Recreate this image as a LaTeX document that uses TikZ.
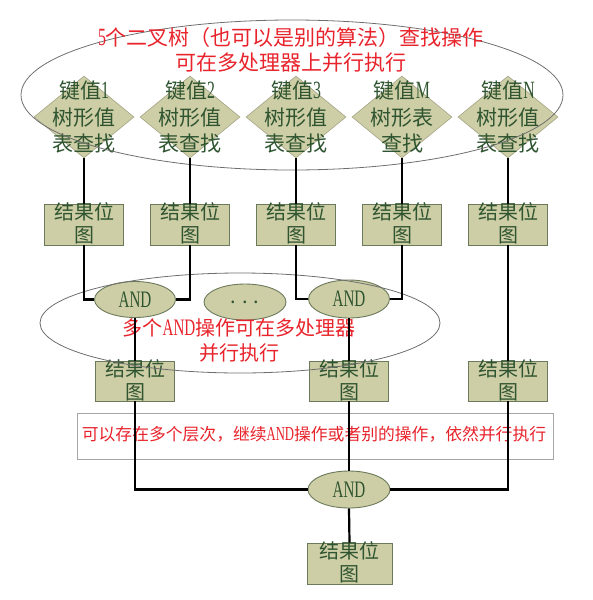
\documentclass[tikz,border=0pt]{standalone}
\usepackage{fontspec}
\setmainfont{Noto Sans CJK SC}
\newfontfamily\latfont[FakeStretch=0.64,Scale=1.18]{Liberation Serif}
\newcommand{\lat}[1]{{\latfont #1}}
\usetikzlibrary{shapes.geometric}
\definecolor{khaki}{HTML}{CDCDA6}
\definecolor{boxline}{HTML}{6B7A5A}
\definecolor{dgreen}{HTML}{2F5530}
\definecolor{tred}{HTML}{E8232B}
\definecolor{ringgray}{HTML}{6E6E6E}
\tikzset{
  dia/.style={diamond, fill=khaki, draw=khaki!80!black, line width=0.6pt, minimum width=100pt, minimum height=82pt, inner sep=0pt},
  box/.style={rectangle, fill=khaki, draw=boxline, line width=0.9pt, minimum width=79pt, minimum height=41pt, inner sep=0pt},
  andnode/.style={ellipse, fill=khaki, draw=boxline, line width=0.9pt, minimum width=81pt, minimum height=36pt, inner sep=0pt, text=dgreen, font=\fontsize{20}{24}\selectfont},
  gtxt/.style={text=dgreen, align=center, inner sep=0pt},
  rtxt/.style={text=tred, align=center, inner sep=0pt},
  ring/.style={ellipse, draw=ringgray, line width=0.8pt, inner sep=0pt},
  conn/.style={draw=black, line width=2.2pt},
}
\begin{document}
\begin{tikzpicture}[x=1pt,y=-1pt]
\useasboundingbox (0,0) rectangle (592,600);
% diamonds and first row of boxes
\foreach \n/\x/\t in {1/84/{键值\lat{1}\\树形值\\表查找},2/190/{键值\lat{2}\\树形值\\表查找},3/296/{键值\lat{3}\\树形值\\表查找},4/402/{键值\lat{M}\\树形表\\查找},5/508/{键值\lat{N}\\树形值\\表查找}}{
  \node[dia] (d\n) at (\x,117) {};
  \node[gtxt, font=\fontsize{21}{26.5}\selectfont] (d\n t) at (\x,117) {\t};
  \node[box] (b\n) at (\x,224.5) {};
  \node[gtxt, font=\fontsize{20}{23}\selectfont] (b\n t) at (\x,223.5) {结果位\\图};
}
% AND ellipses row 2
\node[andnode] (and1) at (135,299.5) {\lat{AND}};
\node[andnode, minimum width=82pt] (dots) at (245,302) {. . .};
\node[andnode, minimum height=38pt] (and2) at (349,299) {\lat{AND}};
% third row boxes
\foreach \n/\x in {1/135,2/349,3/508}{
  \node[box, minimum height=40pt] (c\n) at (\x,381) {};
  \node[gtxt, font=\fontsize{20}{23}\selectfont] (c\n t) at (\x,380) {结果位\\图};
}
% wide box
\node[rectangle, draw=gray!70, fill=white, line width=0.9pt, minimum width=476pt, minimum height=46pt, inner sep=0pt] (wide) at (315,436) {};
\node[rtxt, font=\fontsize{16.8}{20}\selectfont] (widet) at (314,434) {可以存在多个层次，继续\lat{AND}操作或者别的操作，依然并行执行};
% final AND and box
\node[andnode, minimum width=82pt, minimum height=37pt] (and3) at (349,489.5) {\lat{AND}};
\node[box, minimum width=85pt] (fin) at (349.5,563.5) {};
\node[gtxt, font=\fontsize{20}{23}\selectfont] (fint) at (349.5,562.5) {结果位\\图};
% rings
\node[ring, minimum width=542pt, minimum height=150pt] (ring1) at (292,95) {};
\node[ring, minimum width=400pt, minimum height=100pt] (ring2) at (240,323) {};
% red texts
\node[rtxt, font=\fontsize{21}{25}\selectfont] (title) at (291,49.5) {\lat{5}个二叉树（也可以是别的算法）查找操作\\可在多处理器上并行执行};
\node[rtxt, font=\fontsize{20}{25}\selectfont] (andtxt) at (239,340.5) {多个\lat{AND}操作可在多处理器\\并行执行};
% connectors
\foreach \n in {1,...,5}{ \draw[conn] (d\n.south) -- (b\n.north); }
\draw[conn] (b1.south) |- (and1.west);
\draw[conn] (b2.south) |- (and1.east);
\draw[conn] (b3.south) |- (and2.west);
\draw[conn] (b4.south) |- (and2.east);
\draw[conn] (b5.south) -- (c3.north);
\draw[conn] (and1.south) -- (c1.north);
\draw[conn] (and2.south) -- (c2.north);
\draw[conn] (c1.south) |- (and3.west);
\draw[conn] (c2.south) -- (and3.north);
\draw[conn] (c3.south) |- (and3.east);
\draw[conn] (and3.south) -- (fin.north);
\end{tikzpicture}
\end{document}
